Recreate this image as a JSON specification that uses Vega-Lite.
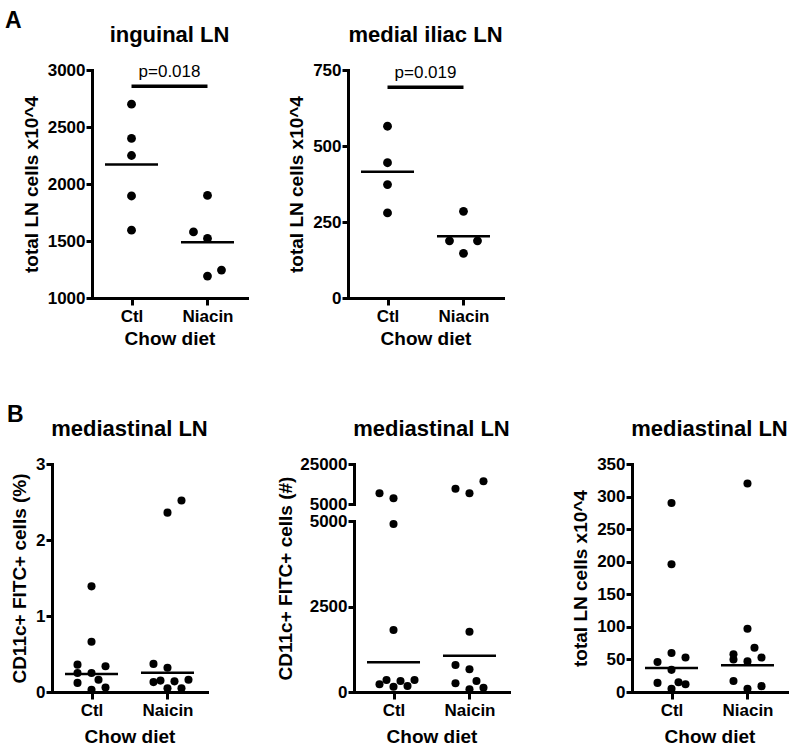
{
  "$schema": "https://vega.github.io/schema/vega-lite/v6.json",
  "background": "white",
  "padding": {"left": 5, "top": 10, "right": 5, "bottom": 5},
  "config": {
    "view": {"stroke": null},
    "font": "Liberation Sans",
    "axis": {
      "grid": false,
      "domainColor": "black", "domainWidth": 3, "domainCap": "square",
      "tickColor": "black", "tickWidth": 3, "tickSize": 6,
      "labelFont": "Liberation Sans", "labelFontWeight": "bold", "labelFontSize": 17, "labelColor": "black", "labelPadding": 1,
      "titleFont": "Liberation Sans", "titleFontWeight": "bold", "titleFontSize": 19, "titleColor": "black", "titlePadding": 6
    },
    "axisX": {"labelAngle": 0, "labelPadding": 3, "tickSize": 7, "titlePadding": 5},
    "title": {"font": "Liberation Sans", "fontSize": 22, "fontWeight": "bold", "color": "black", "frame": "group", "offset": 14, "baseline": "alphabetic"}
  },
  "datasets": {
    "a1": [
      {"g": "Ctl", "v": 2700, "c": 0}, {"g": "Ctl", "v": 2400, "c": 0}, {"g": "Ctl", "v": 2250, "c": 0}, {"g": "Ctl", "v": 1895, "c": 0}, {"g": "Ctl", "v": 1595, "c": 0},
      {"g": "Niacin", "v": 1900, "c": 0}, {"g": "Niacin", "v": 1580, "c": -2}, {"g": "Niacin", "v": 1522, "c": 0}, {"g": "Niacin", "v": 1245, "c": 2}, {"g": "Niacin", "v": 1192, "c": 0}
    ],
    "a1m": [{"g": "Ctl", "v": 2172}, {"g": "Niacin", "v": 1488}],
    "a1p": [{"g": "Ctl", "g2": "Niacin", "v": 2857, "label": "p=0.018"}],
    "a2": [
      {"g": "Ctl", "v": 565, "c": 0}, {"g": "Ctl", "v": 445, "c": 0}, {"g": "Ctl", "v": 373, "c": 0}, {"g": "Ctl", "v": 280, "c": 0},
      {"g": "Niacin", "v": 285, "c": 0}, {"g": "Niacin", "v": 188, "c": -2}, {"g": "Niacin", "v": 188, "c": 2}, {"g": "Niacin", "v": 147, "c": 0}
    ],
    "a2m": [{"g": "Ctl", "v": 415}, {"g": "Niacin", "v": 203}],
    "a2p": [{"g": "Ctl", "g2": "Niacin", "v": 693, "label": "p=0.019"}],
    "b1": [
      {"g": "Ctl", "v": 1.39, "c": 0}, {"g": "Ctl", "v": 0.66, "c": 0}, {"g": "Ctl", "v": 0.36, "c": -2}, {"g": "Ctl", "v": 0.25, "c": -2}, {"g": "Ctl", "v": 0.12, "c": -2},
      {"g": "Ctl", "v": 0.25, "c": 0}, {"g": "Ctl", "v": 0.34, "c": 2}, {"g": "Ctl", "v": 0.16, "c": 1}, {"g": "Ctl", "v": 0.03, "c": 0}, {"g": "Ctl", "v": 0.06, "c": 2},
      {"g": "Naicin", "v": 2.52, "c": 2}, {"g": "Naicin", "v": 2.36, "c": 0}, {"g": "Naicin", "v": 0.37, "c": -2}, {"g": "Naicin", "v": 0.32, "c": 0}, {"g": "Naicin", "v": 0.13, "c": -2},
      {"g": "Naicin", "v": 0.15, "c": -1}, {"g": "Naicin", "v": 0.14, "c": 1}, {"g": "Naicin", "v": 0.16, "c": 3}, {"g": "Naicin", "v": 0.05, "c": 0}, {"g": "Naicin", "v": 0.05, "c": 2}
    ],
    "b1m": [{"g": "Ctl", "v": 0.237}, {"g": "Naicin", "v": 0.254}],
    "b2": [
      {"g": "Ctl", "v": 10400, "c": -2}, {"g": "Ctl", "v": 7850, "c": 0}, {"g": "Ctl", "v": 4912, "c": 0}, {"g": "Ctl", "v": 1813, "c": 0}, {"g": "Ctl", "v": 225, "c": -2},
      {"g": "Ctl", "v": 351, "c": -1}, {"g": "Ctl", "v": 155, "c": 0}, {"g": "Ctl", "v": 322, "c": 1}, {"g": "Ctl", "v": 175, "c": 2}, {"g": "Ctl", "v": 351, "c": 3},
      {"g": "Naicin", "v": 12630, "c": -2}, {"g": "Naicin", "v": 10400, "c": 0}, {"g": "Naicin", "v": 16350, "c": 2}, {"g": "Naicin", "v": 1764, "c": 0}, {"g": "Naicin", "v": 789, "c": -2},
      {"g": "Naicin", "v": 663, "c": 0}, {"g": "Naicin", "v": 254, "c": -2}, {"g": "Naicin", "v": 322, "c": 1}, {"g": "Naicin", "v": 79, "c": 0}, {"g": "Naicin", "v": 126, "c": 2}
    ],
    "b2m": [{"g": "Ctl", "v": 868}, {"g": "Naicin", "v": 1062}],
    "b3": [
      {"g": "Ctl", "v": 290, "c": 0}, {"g": "Ctl", "v": 196, "c": 0}, {"g": "Ctl", "v": 60, "c": 0}, {"g": "Ctl", "v": 53, "c": 2}, {"g": "Ctl", "v": 46, "c": -2},
      {"g": "Ctl", "v": 34, "c": 0}, {"g": "Ctl", "v": 14, "c": -2}, {"g": "Ctl", "v": 15, "c": 1}, {"g": "Ctl", "v": 12, "c": 2}, {"g": "Ctl", "v": 5, "c": 0},
      {"g": "Niacin", "v": 320, "c": 0}, {"g": "Niacin", "v": 97, "c": 0}, {"g": "Niacin", "v": 68, "c": 1}, {"g": "Niacin", "v": 58, "c": -2}, {"g": "Niacin", "v": 50, "c": -2},
      {"g": "Niacin", "v": 47, "c": 0}, {"g": "Niacin", "v": 53, "c": 2}, {"g": "Niacin", "v": 17, "c": -2}, {"g": "Niacin", "v": 5, "c": 0}, {"g": "Niacin", "v": 9, "c": 2}
    ],
    "b3m": [{"g": "Ctl", "v": 37}, {"g": "Niacin", "v": 41}]
  },
  "spacing": 56,
  "vconcat": [
    {
      "title": {"text": "A", "anchor": "start", "frame": "group", "dx": -47, "offset": -9, "fontSize": 23},
      "bounds": "flush",
      "spacing": 0,
      "hconcat": [
        {"width": 40, "height": 228, "data": {"values": []}, "mark": "point"},
        {
          "width": 155, "height": 228,
          "title": "inguinal LN",
          "encoding": {
            "x": {"field": "g", "type": "nominal", "scale": {"type": "point", "padding": 0.52, "domain": ["Ctl", "Niacin"]}, "axis": {"title": "Chow diet"}},
            "y": {"field": "v", "type": "quantitative", "scale": {"domain": [1000, 3000], "nice": false, "zero": false}, "axis": {"values": [1000, 1500, 2000, 2500, 3000], "format": "d", "title": "total LN cells x10^4"}}
          },
          "layer": [
            {"data": {"name": "a1"}, "mark": {"type": "circle", "size": 78, "color": "black", "opacity": 1},
             "encoding": {"xOffset": {"field": "c", "type": "quantitative", "scale": {"domain": [-2, 3], "range": [-14, 21], "zero": false, "nice": false}}}},
            {"data": {"name": "a1m"}, "mark": {"type": "tick", "orient": "horizontal", "size": 53, "thickness": 2.5, "color": "black", "opacity": 1}},
            {"data": {"name": "a1p"}, "mark": {"type": "rule", "strokeWidth": 3.5, "color": "black"}, "encoding": {"x2": {"field": "g2"}}},
            {"data": {"name": "a1p"}, "mark": {"type": "text", "fontSize": 17, "dx": 38, "dy": -9, "align": "center", "baseline": "alphabetic", "color": "black"}, "encoding": {"text": {"field": "label"}}}
          ]
        },
        {"width": 101, "height": 228, "data": {"values": []}, "mark": "point"},
        {
          "width": 155, "height": 228,
          "title": "medial iliac LN",
          "encoding": {
            "x": {"field": "g", "type": "nominal", "scale": {"type": "point", "padding": 0.52, "domain": ["Ctl", "Niacin"]}, "axis": {"title": "Chow diet"}},
            "y": {"field": "v", "type": "quantitative", "scale": {"domain": [0, 750], "nice": false}, "axis": {"values": [0, 250, 500, 750], "format": "d", "title": "total LN cells x10^4"}}
          },
          "layer": [
            {"data": {"name": "a2"}, "mark": {"type": "circle", "size": 78, "color": "black", "opacity": 1},
             "encoding": {"xOffset": {"field": "c", "type": "quantitative", "scale": {"domain": [-2, 3], "range": [-14, 21], "zero": false, "nice": false}}}},
            {"data": {"name": "a2m"}, "mark": {"type": "tick", "orient": "horizontal", "size": 53, "thickness": 2.5, "color": "black", "opacity": 1}},
            {"data": {"name": "a2p"}, "mark": {"type": "rule", "strokeWidth": 3.5, "color": "black"}, "encoding": {"x2": {"field": "g2"}}},
            {"data": {"name": "a2p"}, "mark": {"type": "text", "fontSize": 17, "dx": 38, "dy": -9, "align": "center", "baseline": "alphabetic", "color": "black"}, "encoding": {"text": {"field": "label"}}}
          ]
        }
      ]
    },
    {
      "title": {"text": "B", "anchor": "start", "frame": "group", "dx": -45, "offset": -9, "fontSize": 23},
      "bounds": "flush",
      "spacing": 0,
      "hconcat": [
        {
          "width": 155, "height": 228,
          "title": "mediastinal LN",
          "encoding": {
            "x": {"field": "g", "type": "nominal", "scale": {"type": "point", "padding": 0.52, "domain": ["Ctl", "Naicin"]}, "axis": {"title": "Chow diet", "titlePadding": 9}},
            "y": {"field": "v", "type": "quantitative", "scale": {"domain": [0, 3], "nice": false}, "axis": {"values": [0, 1, 2, 3], "format": "d", "title": "CD11c+ FITC+ cells (%)"}}
          },
          "layer": [
            {"data": {"name": "b1"}, "mark": {"type": "circle", "size": 65, "color": "black", "opacity": 1},
             "encoding": {"xOffset": {"field": "c", "type": "quantitative", "scale": {"domain": [-2, 3], "range": [-14, 21], "zero": false, "nice": false}}}},
            {"data": {"name": "b1m"}, "mark": {"type": "tick", "orient": "horizontal", "size": 53, "thickness": 2.5, "color": "black", "opacity": 1}}
          ]
        },
        {"width": 147, "height": 228, "data": {"values": []}, "mark": "point"},
        {
          "width": 155, "height": 228,
          "title": "mediastinal LN",
          "layer": [
            {
              "encoding": {
                "x": {"field": "g", "type": "nominal", "scale": {"type": "point", "padding": 0.52, "domain": ["Ctl", "Naicin"]}, "axis": {"title": "Chow diet", "titlePadding": 9}},
                "y": {"field": "v", "type": "quantitative", "scale": {"domain": [0, 5000], "range": [228, 57], "nice": false, "zero": false}, "axis": {"orient": "left", "values": [0, 2500, 5000], "format": "d", "title": "CD11c+ FITC+ cells  (#)", "titleY": 114, "titleX": -59}}
              },
              "layer": [
                {"data": {"name": "b2"}, "transform": [{"filter": "datum.v < 5000"}], "mark": {"type": "circle", "size": 65, "color": "black", "opacity": 1},
                 "encoding": {"xOffset": {"field": "c", "type": "quantitative", "scale": {"domain": [-2, 3], "range": [-14, 21], "zero": false, "nice": false}}}},
                {"data": {"name": "b2m"}, "mark": {"type": "tick", "orient": "horizontal", "size": 53, "thickness": 2.5, "color": "black", "opacity": 1}}
              ]
            },
            {
              "data": {"name": "b2"},
              "transform": [{"filter": "datum.v >= 5000"}],
              "mark": {"type": "circle", "size": 65, "color": "black", "opacity": 1},
              "encoding": {
                "x": {"field": "g", "type": "nominal", "scale": {"type": "point", "padding": 0.52, "domain": ["Ctl", "Naicin"]}, "axis": {"title": "Chow diet", "titlePadding": 9}},
                "xOffset": {"field": "c", "type": "quantitative", "scale": {"domain": [-2, 3], "range": [-14, 21], "zero": false, "nice": false}},
                "y": {"field": "v", "type": "quantitative", "scale": {"domain": [5000, 25000], "range": [40, 0], "nice": false, "zero": false}, "axis": {"orient": "left", "values": [5000, 25000], "format": "d", "title": null}}
              }
            }
          ],
          "resolve": {"scale": {"y": "independent"}, "axis": {"y": "independent"}}
        },
        {"width": 123, "height": 228, "data": {"values": []}, "mark": "point"},
        {
          "width": 155, "height": 228,
          "title": "mediastinal LN",
          "encoding": {
            "x": {"field": "g", "type": "nominal", "scale": {"type": "point", "padding": 0.52, "domain": ["Ctl", "Niacin"]}, "axis": {"title": "Chow diet", "titlePadding": 9}},
            "y": {"field": "v", "type": "quantitative", "scale": {"domain": [0, 350], "nice": false}, "axis": {"values": [0, 50, 100, 150, 200, 250, 300, 350], "format": "d", "title": "total LN cells x10^4"}}
          },
          "layer": [
            {"data": {"name": "b3"}, "mark": {"type": "circle", "size": 65, "color": "black", "opacity": 1},
             "encoding": {"xOffset": {"field": "c", "type": "quantitative", "scale": {"domain": [-2, 3], "range": [-14, 21], "zero": false, "nice": false}}}},
            {"data": {"name": "b3m"}, "mark": {"type": "tick", "orient": "horizontal", "size": 53, "thickness": 2.5, "color": "black", "opacity": 1}}
          ]
        }
      ]
    }
  ]
}
